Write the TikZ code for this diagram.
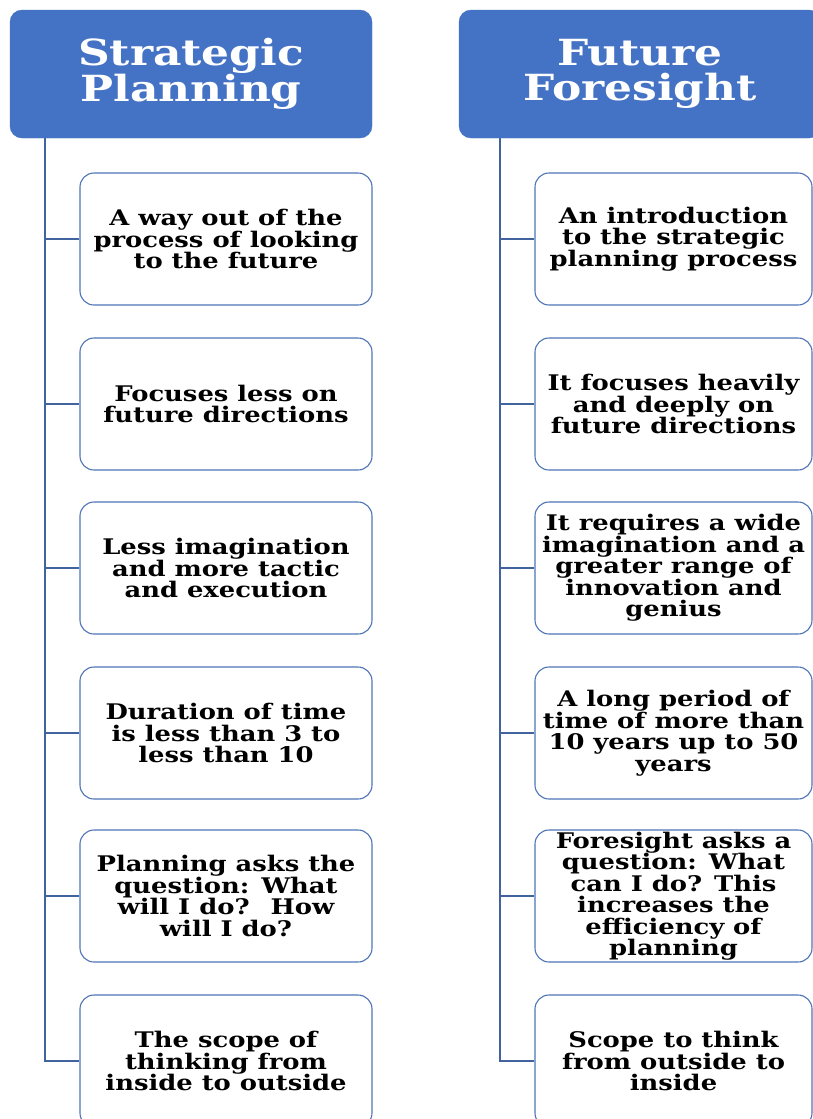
\documentclass[tikz,border=0pt]{standalone}
\usepackage{fontspec}
\setmainfont{DejaVu Serif}
\newfontfamily\widefont[FakeStretch=1.2]{DejaVu Serif}
\newfontfamily\hdrfont[FakeStretch=1.22]{DejaVu Serif}
\definecolor{hdrblue}{HTML}{4472C4}
\definecolor{boxline}{HTML}{4F74B8}
\definecolor{trunk}{HTML}{41649F}
\begin{document}
\begin{tikzpicture}[x=1pt,y=-1pt,
  header/.style={draw=hdrblue,fill=hdrblue,rounded corners=12pt,minimum width=362pt,minimum height=128pt,
    inner sep=0pt,text=white,align=center,font=\hdrfont\fontsize{36}{35}\selectfont\bfseries},
  item/.style={draw=boxline,line width=1.1pt,fill=white,rounded corners=14pt,minimum height=132pt,
    inner sep=0pt,text=black,align=center,font=\widefont\fontsize{21.5}{21.5}\selectfont\bfseries},
  itemL/.style={item,minimum width=292pt},
  itemR/.style={item,minimum width=277pt},
  link/.style={draw=trunk,line width=1.3pt}]
\useasboundingbox (0,0) rectangle (813,1119);
\fill[white] (0,0) rectangle (813,1119);
% headers
\node[header] (hL) at (191,74) {Strategic\\Planning};
\node[header] (hR) at (640,74) {Future\\Foresight};
% trunk coordinates
\coordinate (tL) at (45,138);
\coordinate (tR) at (500,138);
% left items
\node[itemL] (l1) at (226,239) {A way out of the\\process of looking\\to the future};
\node[itemL] (l2) at (226,404) {Focuses less on\\future directions};
\node[itemL] (l3) at (226,568) {Less imagination\\and more tactic\\and execution};
\node[itemL] (l4) at (226,733) {Duration of time\\is less than 3 to\\less than 10};
\node[itemL] (l5) at (226,896) {Planning asks the\\question: What\\will I do?~ How\\will I do?};
\node[itemL] (l6) at (226,1061) {The scope of\\thinking from\\inside to outside};
% right items
\node[itemR] (r1) at (673.5,239) {An introduction\\to the strategic\\planning process};
\node[itemR] (r2) at (673.5,404) {It focuses heavily\\and deeply on\\future directions};
\node[itemR] (r3) at (673.5,568) {It requires a wide\\imagination and a\\greater range of\\innovation and\\genius};
\node[itemR] (r4) at (673.5,733) {A long period of\\time of more than\\10 years up to 50\\years};
\node[itemR] (r5) at (673.5,896) {Foresight asks a\\question: What\\can I do? This\\increases the\\efficiency of\\planning};
\node[itemR] (r6) at (673.5,1061) {Scope to think\\from outside to\\inside};
% connectors
\foreach \n in {l1,l2,l3,l4,l5,l6} \draw[link] (tL) |- (\n.west);
\foreach \n in {r1,r2,r3,r4,r5,r6} \draw[link] (tR) |- (\n.west);
\end{tikzpicture}
\end{document}
